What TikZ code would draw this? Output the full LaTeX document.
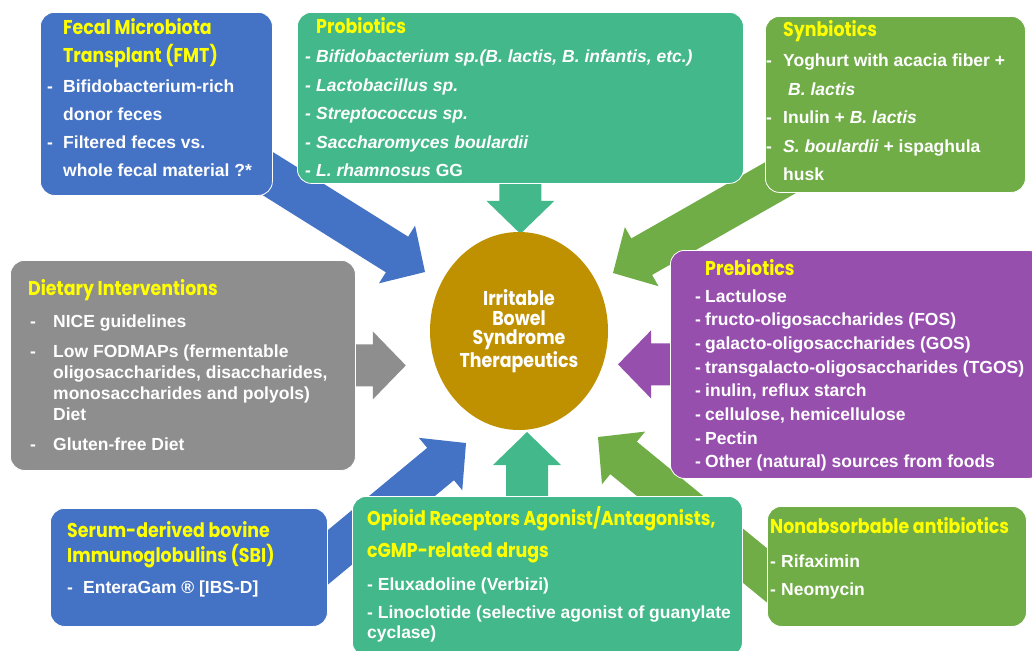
\documentclass[tikz,border=0pt]{standalone}
\usepackage{fontspec}
\setmainfont{Liberation Sans}
\newfontfamily\ttlfont{Poppins}[FakeStretch=0.87]
\usetikzlibrary{shapes.geometric,calc,backgrounds}

\definecolor{ibsblue}{HTML}{4472C4}
\definecolor{ibsteal}{HTML}{43B88B}
\definecolor{ibsgreen}{HTML}{70AD47}
\definecolor{ibsgray}{HTML}{8E8E8E}
\definecolor{ibspurple}{HTML}{974FAE}
\definecolor{ibsgold}{HTML}{BF9000}
\definecolor{ttlyellow}{HTML}{FFFF00}

\newcommand{\ttl}[1]{{\ttlfont\fontsize{20}{20}\selectfont\color{ttlyellow}#1}}
% colour, start, tip
\newcommand{\blockarrow}[3]{%
  \coordinate (ba-s) at ($(#2)!-40pt!(#3)$);
  \coordinate (ba-h) at ($(#3)!33pt!(#2)$);
  \fill[#1] ($(ba-s)!21pt!90:(#3)$) -- ($(ba-h)!21pt!90:(#3)$) -- ($(ba-h)!34pt!90:(#3)$)
    -- (#3) -- ($(ba-h)!34pt!-90:(#3)$) -- ($(ba-h)!21pt!-90:(#3)$) -- ($(ba-s)!21pt!-90:(#3)$) -- cycle;
}

\begin{document}
\begin{tikzpicture}[x=1pt, y=-1pt,
  box/.style={draw=white, line width=0.8pt, rounded corners=14pt, anchor=north west, inner sep=0pt},
  txt/.style={anchor=base west, inner sep=0pt, text=white, font=\fontsize{17.5}{#1}\selectfont\bfseries}]
\useasboundingbox (0,0) rectangle (1032,650);

% boxes
\node[box, fill=ibsblue, minimum width=232, minimum height=183] (fmt) at (40,12) {};
\node[box, fill=ibsteal, minimum width=446, minimum height=171] (prob) at (297,12) {};
\node[box, fill=ibsgreen, minimum width=260, minimum height=176] (syn) at (765,16) {};
\node[box, fill=ibsgray, minimum width=345, minimum height=210] (diet) at (10,260) {};
\node[box, fill=ibspurple, minimum width=372, minimum height=228] (pre) at (670,250) {};
\node[box, fill=ibsblue, minimum width=277, minimum height=118] (sbi) at (50,508) {};
\node[box, fill=ibsteal, minimum width=390, minimum height=160] (opi) at (352,496) {};
\node[box, fill=ibsgreen, minimum width=259, minimum height=120] (nab) at (767,506) {};

% texts
\node[txt=28] (fmt-txt) at (47,35) {\begin{tabular}[t]{@{}p{16pt}@{}l@{}}
 & \ttl{Fecal Microbiota}\\
 & \ttl{Transplant (FMT)}\\[2pt]
- & Bifidobacterium-rich\\
 & donor feces\\
- & Filtered feces vs.\\
 & whole fecal material ?*
\end{tabular}};
\node[txt=28.5] (prob-txt) at (305,34) {\begin{tabular}[t]{@{}p{11pt}@{}l@{}}
 & \ttl{Probiotics}\\[0.5pt]
\textit{-} & \textit{Bifidobacterium sp.(B. lactis, B. infantis, etc.)}\\
\textit{-} & \textit{Lactobacillus sp.}\\
\textit{-} & \textit{Streptococcus sp.}\\
\textit{-} & \textit{Saccharomyces boulardii}\\
\textit{-} & \textit{L. rhamnosus} GG
\end{tabular}};
\node[txt=28.5] (syn-txt) at (766,37) {\begin{tabular}[t]{@{}p{17pt}@{}l@{}}
 & \ttl{Synbiotics}\\[1.5pt]
- & Yoghurt with acacia fiber +\\
 & \hspace{5pt}\textit{B. lactis}\\
- & Inulin + \textit{B. lactis}\\
- & \textit{S. boulardii} + ispaghula\\
 & husk
\end{tabular}};
\node[txt=21] (diet-txt) at (28,295) {\begin{tabular}[t]{@{}p{25pt}@{}l@{}}
\multicolumn{2}{@{}l@{}}{\ttl{Dietary Interventions}}\\[11pt]
\hspace{2pt}- & NICE guidelines\\[9pt]
\hspace{2pt}- & Low FODMAPs (fermentable\\
 & oligosaccharides, disaccharides,\\
 & monosaccharides and polyols)\\
 & Diet\\[9pt]
\hspace{2pt}- & Gluten-free Diet
\end{tabular}};
\node[txt=23.7] (pre-txt) at (695,275) {\begin{tabular}[t]{@{}p{10pt}@{}l@{}}
 & \ttl{Prebiotics}\\[3.3pt]
- & Lactulose\\
- & fructo-oligosaccharides (FOS)\\
- & galacto-oligosaccharides (GOS)\\
- & transgalacto-oligosaccharides (TGOS)\\
- & inulin, reflux starch\\
- & cellulose, hemicellulose\\
- & Pectin\\
- & Other (natural) sources from foods
\end{tabular}};
\node[txt=25] (sbi-txt) at (67,537) {\begin{tabular}[t]{@{}p{16pt}@{}l@{}}
\multicolumn{2}{@{}l@{}}{\ttl{Serum-derived bovine}}\\
\multicolumn{2}{@{}l@{}}{\ttl{Immunoglobulins (SBI)}}\\[6pt]
- & EnteraGam ® [IBS-D]
\end{tabular}};
\node[txt=20] (opi-txt) at (367,525) {\begin{tabular}[t]{@{}l@{}}
\ttl{Opioid Receptors Agonist/Antagonists,}\\[12pt]
\ttl{cGMP-related drugs}\\[13pt]
- Eluxadoline (Verbizi)\\[8pt]
- Linoclotide (selective agonist of guanylate\\
cyclase)
\end{tabular}};
\node[txt=28] (nab-txt) at (770,533) {\begin{tabular}[t]{@{}p{11pt}@{}l@{}}
\multicolumn{2}{@{}l@{}}{\ttl{Nonabsorbable antibiotics}}\\[6pt]
- & Rifaximin\\
- & Neomycin
\end{tabular}};

% centre
\node[ellipse, fill=ibsgold, minimum width=178, minimum height=198, inner sep=0pt, text=white,
  align=center, font=\ttlfont\bfseries\fontsize{20}{19.7}\selectfont] (ibs) at (519,331)
  {Irritable\\Bowel\\Syndrome\\Therapeutics};

% arrow ends
\coordinate (tip-fmt) at (425,272);
\coordinate (tip-prob) at ($(prob.south)+(0,50)$);
\coordinate (syn-out) at ($(syn.south west)+(24,-20)$);
\coordinate (tip-syn) at (613,273);
\coordinate (tip-diet) at ($(diet.east)+(50,0)$);
\coordinate (tip-pre) at ($(pre.west)+(-52,0)$);
\coordinate (sbi-out) at ($(sbi.east)+(0,-10)$);
\coordinate (tip-sbi) at (466,443);
\coordinate (tip-opi) at (527,432);
\coordinate (nab-out) at ($(nab.west)+(0,9)$);
\coordinate (tip-nab) at (598,437);

\begin{scope}[on background layer]
\fill[white] (0,0) rectangle (1032,650);
\blockarrow{ibsblue}{fmt.center}{tip-fmt}
\blockarrow{ibsteal}{prob.south}{tip-prob}
\blockarrow{ibsgreen}{syn-out}{tip-syn}
\blockarrow{ibsgray}{diet.east}{tip-diet}
\blockarrow{ibspurple}{pre.west}{tip-pre}
\blockarrow{ibsblue}{sbi-out}{tip-sbi}
\blockarrow{ibsteal}{tip-opi |- opi.north}{tip-opi}
\blockarrow{ibsgreen}{nab-out}{tip-nab}
\end{scope}
\end{tikzpicture}
\end{document}
